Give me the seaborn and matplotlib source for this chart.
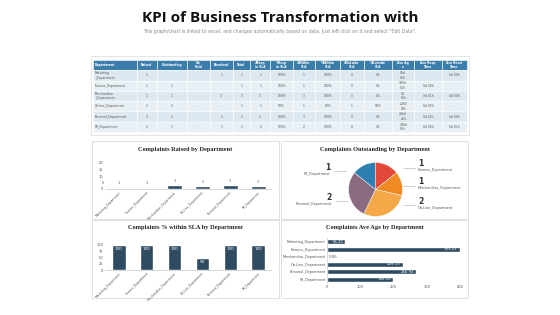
import matplotlib
matplotlib.use("Agg")
import matplotlib.pyplot as plt
import matplotlib.patches as patches
import seaborn as sns
import numpy as np
import pandas as pd

# data
departments = ["Marketing_Department", "Finance_Department", "Merchandise_Department",
               "On-Line_Department", "Personal_Department", "PR_Department"]
raised = [1, 1, 3, 2, 3, 2]
outstanding = [0, 1, 1, 2, 2, 1]
within_sla_pct = [100, 100, 100, 50, 100, 100]
avg_age = [55.25, 399.21, 0.06, 228.13, 266.94, 198.25]

table_header = ["Department", "Raised", "Outstanding", "On\nHold", "Resolved", "Total",
                "#Resp\nin SLA", "%Resp\nin SLA", "#Within\nSLA", "%Within\nSLA",
                "#Outside\nSLA", "%Outside\nSLA", "Ave Ag\ne", "Ave Resp\nTime", "Ave Resol\nTime"]
table_rows = [
    ["Marketing\n_Department", "1", "-", "-", "1", "1", "1", "100%", "1", "100%", "0", "0%", "55d\n06h", "-", "0d 00h"],
    ["Finance_Department", "1", "1", "-", "-", "1", "1", "100%", "1", "100%", "0", "0%", "399d\n05h", "0d 00h", "-"],
    ["Merchandise\n_Department", "1", "1", "-", "3", "3", "3", "100%", "3", "100%", "0", "0%", "0d\n01h", "0d 01h", "0d 00h"],
    ["On-line_Department", "2", "2", "-", "-", "2", "1", "50%", "1", "50%", "1", "50%", "228d\n03h", "0d 03h", "-"],
    ["Personal_Department", "3", "2", "-", "1", "3", "3", "100%", "3", "100%", "0", "0%", "266d\n22h", "0d 22h", "0d 00h"],
    ["PR_Department", "2", "1", "-", "1", "2", "2", "100%", "2", "100%", "0", "0%", "198d\n06h", "0d 06h", "0d 01h"],
]
col_widths = [43, 20, 30, 22, 23, 17, 20, 22, 22, 25, 23, 28, 22, 27, 25]

pie_labels = ["Finance_Department", "Merchandise_Department", "On-Line_Department",
              "Personal_Department", "PR_Department"]
pie_values = [1, 1, 2, 2, 1]
pie_colors = ["#e2493a", "#f08a24", "#f4a847", "#8a6b7f", "#2c7fb0"]

bar_color = "#2e4b62"
W, H = 560, 315

sns.set_theme(style="white")
plt.rcParams["font.family"] = ["DejaVu Sans"]

fig = plt.figure(figsize=(5.6, 3.15), dpi=100, facecolor="white")


def box(x0, y0, x1, y1):
    # pixel box -> figure fraction
    return [x0 / W, 1 - y1 / H, (x1 - x0) / W, (y1 - y0) / H]


def frame(x0, y0, x1, y1, ec="#dcdcdc"):
    fig.patches.append(patches.Rectangle((x0 / W, 1 - y1 / H), (x1 - x0) / W, (y1 - y0) / H,
                                         transform=fig.transFigure, fill=True, fc="white",
                                         ec=ec, lw=0.6, zorder=-1))


# Title
fig.text(0.5, 1 - 18 / H, "KPI of Business Transformation with", ha="center", va="center",
         fontsize=11, fontweight="bold", family="Open Sans", color="#111111")
fig.text(0.5, 1 - 31 / H, "This graph/chart is linked to excel, and changes automatically based on data. "
         "Just left click on it and select \"Edit Data\".", ha="center", va="center",
         fontsize=3.3, color="#8a8a8a")

# panel frames
frame(91, 56, 469, 135, ec="#e0e0e0")
frame(92, 141, 279, 219)
frame(281, 141, 468, 219)
frame(92, 220, 279, 298)
frame(281, 220, 468, 298)

# Table
axt = fig.add_axes(box(93, 60, 467, 132))
axt.axis("off")
tbl = axt.table(cellText=table_rows, colLabels=table_header, loc="center", cellLoc="center",
                colWidths=[w / sum(col_widths) for w in col_widths], bbox=[0, 0, 1, 1])
tbl.auto_set_font_size(False)
tbl.set_fontsize(2.2)
for (r, c), cell in tbl.get_celld().items():
    cell.set_edgecolor("white")
    cell.set_linewidth(0.4)
    if r == 0:
        cell.set_facecolor("#3b7dab")
        cell.get_text().set_color("white")
        cell.get_text().set_fontweight("bold")
    else:
        cell.set_facecolor("#dde8f0" if r % 2 else "#e9f0f5")
        cell.get_text().set_color("#555555")
    if c == 0:
        cell.get_text().set_ha("left")
        cell.PAD = 0.04
        cell._loc = "left"

title_kw = dict(fontsize=4.6, fontweight="bold", family="Liberation Serif", color="#222222")
tick_fs = 2.6

# Complaints Raised by Department
ax1 = fig.add_axes(box(105, 163, 272, 189))
df1 = pd.DataFrame({"dept": departments, "val": raised})
sns.barplot(data=df1, x="dept", y="val", ax=ax1, color=bar_color, width=0.54, saturation=1)
ax1.set_ylim(0, 20)
ax1.set_yticks([0, 5, 10, 15, 20])
for i, v in enumerate(raised):
    ax1.text(i, v + 2, str(v), ha="center", va="bottom", fontsize=2.4, color="#555555")
ax1.set_xlabel("")
ax1.set_ylabel("")
ax1.tick_params(axis="y", labelsize=tick_fs, pad=1, length=0, colors="#555555")
ax1.tick_params(axis="x", labelsize=2.2, pad=1, length=0, colors="#555555")
plt.setp(ax1.get_xticklabels(), rotation=45, ha="right", rotation_mode="anchor")
sns.despine(ax=ax1, left=True, bottom=False)
ax1.spines["bottom"].set_color("#bbbbbb")
ax1.spines["bottom"].set_linewidth(0.4)
fig.text((92 + 279) / 2 / W, 1 - 149 / H, "Complaints Raised by Department", ha="center", va="center", **title_kw)

# Complaints Outstanding by Department
ax2 = fig.add_axes(box(348, 162, 403, 217))
ax2.pie(pie_values, colors=pie_colors, startangle=90, counterclock=False,
        wedgeprops=dict(edgecolor="white", linewidth=0.3))
ax2.set_xlim(-1.02, 1.02)
ax2.set_ylim(-1.02, 1.02)
ax2.set_aspect("equal")
fig.text((281 + 468) / 2 / W, 1 - 149 / H, "Complaints Outstanding by Department", ha="center", va="center", **title_kw)

# pie labels: (name, value, x, number y, side)
pie_annot = [
    (pie_labels[0], pie_values[0], 418, 164, "r"),
    (pie_labels[1], pie_values[1], 418, 182, "r"),
    (pie_labels[2], pie_values[2], 418, 201, "r"),
    (pie_labels[3], pie_values[3], 332, 197, "l"),
    (pie_labels[4], pie_values[4], 330, 167, "l"),
]
for name, val, x, y, side in pie_annot:
    ha = "left" if side == "r" else "right"
    fig.text(x / W, 1 - y / H, str(val), ha=ha, va="center", fontsize=5.5,
             fontweight="bold", color="#333333")
    fig.text(x / W, 1 - (y + 6.5) / H, name, ha=ha, va="center", fontsize=2.4, color="#555555")
    if side == "r":
        xs = [x - 15, x - 3]
    else:
        xs = [x + 4, x + 16]
    fig.lines.append(plt.Line2D([xs[0] / W, xs[1] / W], [1 - (y + 3.5) / H] * 2,
                                transform=fig.transFigure, color="#aaaaaa", lw=0.4))

# Complaints % within SLA by Department
ax3 = fig.add_axes(box(105, 245, 272, 270))
df3 = pd.DataFrame({"dept": departments, "val": within_sla_pct})
sns.barplot(data=df3, x="dept", y="val", ax=ax3, color=bar_color, width=0.48, saturation=1)
ax3.set_ylim(0, 100)
ax3.set_yticks([0, 25, 50, 75, 100])
for i, v in enumerate(within_sla_pct):
    ax3.text(i, v - 17, str(v), ha="center", va="center", fontsize=3.0, color="white")
ax3.set_xlabel("")
ax3.set_ylabel("")
ax3.tick_params(axis="y", labelsize=tick_fs, pad=1, length=0, colors="#555555")
ax3.tick_params(axis="x", labelsize=2.2, pad=1, length=0, colors="#555555")
plt.setp(ax3.get_xticklabels(), rotation=45, ha="right", rotation_mode="anchor")
sns.despine(ax=ax3, left=True, bottom=False)
ax3.spines["bottom"].set_color("#bbbbbb")
ax3.spines["bottom"].set_linewidth(0.4)
fig.text((92 + 279) / 2 / W, 1 - 228 / H, "Complaints % within SLA by Department", ha="center", va="center", **title_kw)

# Complaints Ave Age by Department
ax4 = fig.add_axes(box(327, 238, 460, 283))
df4 = pd.DataFrame({"dept": departments, "val": avg_age})
sns.barplot(data=df4, x="val", y="dept", orient="h", ax=ax4, color=bar_color, width=0.72, saturation=1)
ax4.set_xlim(0, 400)
ax4.set_xticks([0, 100, 200, 300, 400])
for i, v in enumerate(avg_age):
    if v > 20:
        ax4.text(v - 6, i, f"{v:.2f}", ha="right", va="center", fontsize=2.8, color="white")
    else:
        ax4.text(v + 6, i, f"{v:.2f}", ha="left", va="center", fontsize=2.8, color="#555555")
ax4.set_xlabel("")
ax4.set_ylabel("")
ax4.tick_params(axis="x", labelsize=tick_fs, pad=1.5, length=0, colors="#555555")
ax4.tick_params(axis="y", labelsize=2.4, pad=1, length=0, colors="#555555")
sns.despine(ax=ax4, left=False, bottom=True)
ax4.spines["left"].set_color("#bbbbbb")
ax4.spines["left"].set_linewidth(0.4)
fig.text((281 + 468) / 2 / W, 1 - 228 / H, "Complaints Ave Age by Department", ha="center", va="center", **title_kw)

fig.savefig("out.png", dpi=100, facecolor="white")
